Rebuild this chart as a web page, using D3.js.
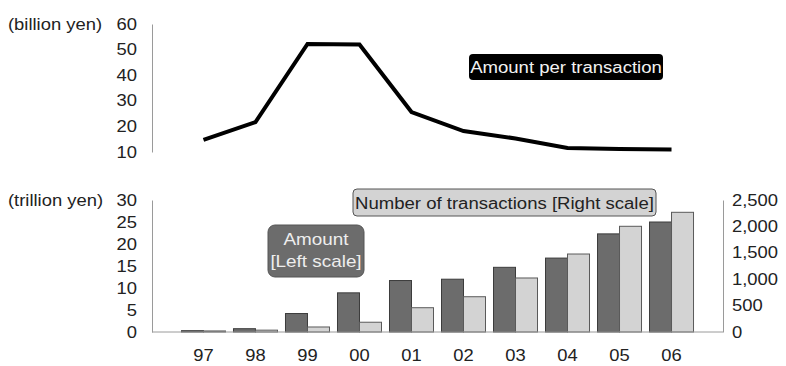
<!DOCTYPE html>
<html>
<head>
<meta charset="utf-8">
<script src="https://cdn.jsdelivr.net/npm/d3@7"></script>
<style>
  html, body { margin: 0; padding: 0; background: #fff; }
  svg { display: block; font-family: "Liberation Sans", Arial, Helvetica, sans-serif; }
</style>
</head>
<body>
<svg id="chart" width="786" height="366"></svg>
<script>
// Fiscal years (two-digit labels)
const years = ["97", "98", "99", "00", "01", "02", "03", "04", "05", "06"];
// Amount per transaction (billion yen)
const perTransaction = [14.7, 21.7, 52.2, 52.0, 25.6, 18.2, 15.3, 11.6, 11.2, 11.0];
// Amount (trillion yen), left scale
const amount = [0.3, 0.75, 4.2, 8.9, 11.7, 12.0, 14.7, 16.8, 22.3, 25.0];
// Number of transactions, right scale
const transactions = [20, 35, 95, 185, 460, 668, 1023, 1477, 2002, 2267];

const topTicks = [10, 20, 30, 40, 50, 60];
const leftTicks = [0, 5, 10, 15, 20, 25, 30];
const rightTicks = [0, 500, 1000, 1500, 2000, 2500];

const svg = d3.select("#chart");
const SX = 1.15;            // horizontal text stretch
const axisColor = "#9a9a9a";
const textColor = "#222";

const x = d3.scaleBand().domain(years).range([152, 723]).paddingOuter(0.49).paddingInner(0);
const yTop = d3.scaleLinear().domain([10, 60]).range([152, 24]);
const yLeft = d3.scaleLinear().domain([0, 30]).range([332, 200]);
const yRight = d3.scaleLinear().domain([0, 2500]).range([332, 200]);

function stretchTicks(g, anchorX) {
  g.selectAll(".tick text")
    .attr("x", anchorX / SX)
    .attr("transform", `scale(${SX},1)`)
    .attr("fill", textColor)
    .style("font-size", "16px");
}

function label(txt, px, py, opts = {}) {
  const t = svg.append("text")
    .attr("transform", `translate(${px},${py}) scale(${opts.sx || SX},1)`)
    .attr("text-anchor", opts.anchor || "start")
    .attr("dominant-baseline", "central")
    .attr("fill", opts.fill || textColor)
    .style("font-size", (opts.size || 16) + "px")
    .text(txt);
  return t;
}

// ---- Top panel: amount per transaction ----
const gTop = svg.append("g").attr("transform", "translate(152,0)")
  .call(d3.axisLeft(yTop).tickValues(topTicks).tickSize(0).tickSizeOuter(0).tickPadding(15));
gTop.select(".domain").attr("stroke", axisColor);
stretchTicks(gTop, -15);

label("(billion yen)", 8, 24);

const line = d3.line()
  .x((d, i) => x(years[i]) + x.bandwidth() / 2)
  .y(d => yTop(d));

svg.append("path")
  .datum(perTransaction)
  .attr("fill", "none")
  .attr("stroke", "#000")
  .attr("stroke-width", 4)
  .attr("stroke-linejoin", "miter")
  .attr("d", line);

// Series label for the line
svg.append("rect")
  .attr("x", 469).attr("y", 54).attr("width", 194).attr("height", 26)
  .attr("rx", 4).attr("fill", "#000");
label("Amount per transaction", 566, 67.5, { anchor: "middle", fill: "#f2f2f2", size: 16, sx: 1.16 });

// ---- Bottom panel: amount and number of transactions ----
const barW = 22;

svg.append("g").selectAll("rect")
  .data(amount)
  .join("rect")
  .attr("x", (d, i) => x(years[i]) + x.bandwidth() / 2 - barW)
  .attr("y", d => yLeft(d))
  .attr("width", barW)
  .attr("height", d => yLeft(0) - yLeft(d))
  .attr("fill", "#6c6c6c")
  .attr("stroke", "#3c3c3c")
  .attr("stroke-width", 1);

svg.append("g").selectAll("rect")
  .data(transactions)
  .join("rect")
  .attr("x", (d, i) => x(years[i]) + x.bandwidth() / 2)
  .attr("y", d => yRight(d))
  .attr("width", barW)
  .attr("height", d => yRight(0) - yRight(d))
  .attr("fill", "#d3d3d3")
  .attr("stroke", "#5a5a5a")
  .attr("stroke-width", 1);

const gLeft = svg.append("g").attr("transform", "translate(152,0)")
  .call(d3.axisLeft(yLeft).tickValues(leftTicks).tickSize(0).tickSizeOuter(0).tickPadding(15));
gLeft.select(".domain").attr("stroke", axisColor);
stretchTicks(gLeft, -15);

const gRight = svg.append("g").attr("transform", "translate(723,0)")
  .call(d3.axisRight(yRight).tickValues(rightTicks).tickSize(0).tickSizeOuter(0).tickPadding(9)
    .tickFormat(d3.format(",")));
gRight.select(".domain").attr("stroke", axisColor);
stretchTicks(gRight, 9);

const gX = svg.append("g").attr("transform", "translate(0,332)")
  .call(d3.axisBottom(x).tickSize(0).tickSizeOuter(0).tickPadding(17));
gX.select(".domain").attr("stroke", axisColor).attr("d", "M152,0H723");
gX.selectAll(".tick text")
  .attr("transform", "scale(1.08,1)")
  .attr("fill", textColor)
  .style("font-size", "17px");

label("(trillion yen)", 8, 200);

// Series labels for the bars
svg.append("rect")
  .attr("x", 353).attr("y", 189).attr("width", 303).attr("height", 27)
  .attr("rx", 4).attr("fill", "#d3d3d3").attr("stroke", "#555").attr("stroke-width", 1);
label("Number of transactions [Right scale]", 504.5, 203, { anchor: "middle", size: 16, sx: 1.16 });

svg.append("rect")
  .attr("x", 268).attr("y", 225).attr("width", 96).attr("height", 52)
  .attr("rx", 7).attr("fill", "#6c6c6c").attr("stroke", "#555").attr("stroke-width", 1);
label("Amount", 316, 240, { anchor: "middle", fill: "#eeeeee", size: 16, sx: 1.18 });
label("[Left scale]", 316, 262, { anchor: "middle", fill: "#eeeeee", size: 16, sx: 1.18 });
</script>
</body>
</html>
